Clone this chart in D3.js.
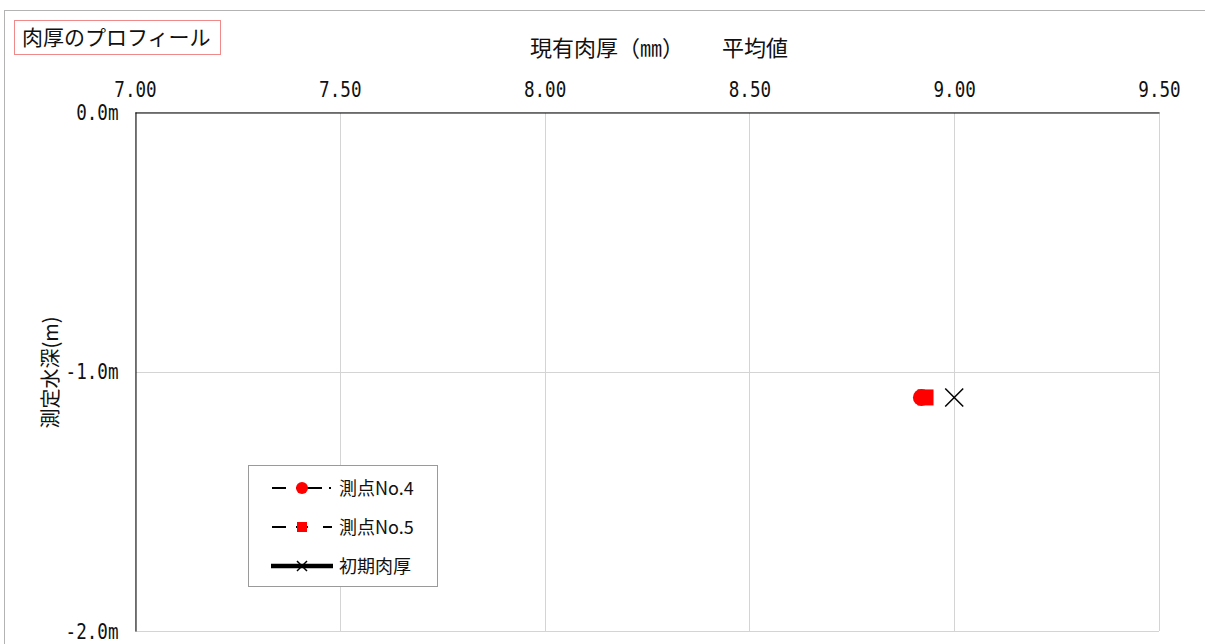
<!DOCTYPE html>
<html>
<head>
<meta charset="utf-8">
<script src="https://cdn.jsdelivr.net/npm/d3@7"></script>
<style>
  html, body { margin: 0; padding: 0; background: #fff; }
  svg { display: block; }
  .jp { font-family: "Noto Sans CJK JP", "DejaVu Sans", sans-serif; }
</style>
</head>
<body>
<svg id="chart" width="1205" height="644"></svg>
<script>
// Wall thickness profile: average measured thickness (mm) against depth (m)
const xTicks = [7.00, 7.50, 8.00, 8.50, 9.00, 9.50];
const yTicks = [0, -1, -2];

const seriesNames = ["測点No.4", "測点No.5", "初期肉厚"];
const point4 = [{ thickness: 8.92, depth: -1.1 }];
const point5 = [{ thickness: 8.93, depth: -1.1 }];
const initial = [{ thickness: 9.00, depth: -1.1 }];

const svg = d3.select("#chart");
const W = 1205, H = 644;
const plot = { left: 135, top: 112, right: 1159, bottom: 631 };
const NUM_FONT = "DejaVu Sans Mono, Liberation Mono, monospace";
const SQUEEZE = 0.8; // narrow the monospace digits

const x = d3.scaleLinear().domain([7.0, 9.5]).range([plot.left, plot.right]);
const y = d3.scaleLinear().domain([0, -2]).range([plot.top, plot.bottom]);

// outer chart frame
svg.append("rect")
  .attr("x", 4.5).attr("y", 10.5).attr("width", W + 10).attr("height", H + 10)
  .attr("fill", "#fff").attr("stroke", "#b3b3b3").attr("stroke-width", 1);

// title box
svg.append("rect")
  .attr("x", 14.5).attr("y", 20.5).attr("width", 206).attr("height", 34)
  .attr("fill", "#fff").attr("stroke", "#f08a8a").attr("stroke-width", 1);
svg.append("text").attr("class", "jp")
  .attr("x", 22).attr("y", 45)
  .attr("font-size", 21).attr("fill", "#111")
  .text("肉厚のプロフィール");

// axis title
const axTitle = svg.append("text").attr("class", "jp")
  .attr("y", 56).attr("font-size", 22).attr("fill", "#111");
axTitle.append("tspan").attr("x", 530).text("現有肉厚（㎜）");
axTitle.append("tspan").attr("x", 722).text("平均値");

// gridlines
const grid = svg.append("g").attr("stroke", "#d4d4d4").attr("stroke-width", 1);
grid.selectAll("line.vx").data(xTicks).join("line")
  .attr("x1", d => Math.round(x(d)) + 0.5).attr("x2", d => Math.round(x(d)) + 0.5)
  .attr("y1", plot.top).attr("y2", plot.bottom);
grid.selectAll("line.hy").data(yTicks).join("line")
  .attr("x1", plot.left).attr("x2", plot.right)
  .attr("y1", d => Math.round(y(d)) + 0.5).attr("y2", d => Math.round(y(d)) + 0.5);

// top x axis (black line, labels above)
const xAxis = d3.axisTop(x).tickValues(xTicks).tickSize(0).tickPadding(16)
  .tickFormat(d3.format(".2f"));
const gx = svg.append("g").attr("transform", `translate(0,${plot.top + 0.5})`).call(xAxis);
gx.select(".domain").attr("stroke", "#000");
gx.selectAll("text").attr("font-size", 22).attr("fill", "#111")
  .attr("font-family", NUM_FONT)
  .attr("transform", `scale(${SQUEEZE},1)`);

// left y axis
const yAxis = d3.axisLeft(y).tickValues(yTicks).tickSize(0)
  .tickFormat(d => d3.format(".1f")(d).replace("−", "-") + "m");
const gy = svg.append("g").attr("transform", `translate(${plot.left + 0.5},0)`).call(yAxis);
gy.select(".domain").attr("stroke", "#000");
gy.selectAll("text").attr("font-size", 22).attr("fill", "#111")
  .attr("font-family", NUM_FONT)
  .attr("x", -17 / SQUEEZE)
  .attr("transform", `scale(${SQUEEZE},1)`);

// y axis title
svg.append("text").attr("class", "jp")
  .attr("transform", `translate(58,${372.5}) rotate(-90)`)
  .attr("text-anchor", "middle")
  .attr("font-size", 20).attr("fill", "#111")
  .text("測定水深(m)");

// series markers
const marks = svg.append("g");
marks.selectAll("circle").data(point4).join("circle")
  .attr("cx", d => x(d.thickness)).attr("cy", d => y(d.depth))
  .attr("r", 8.5).attr("fill", "#ff0000");
marks.selectAll("rect").data(point5).join("rect")
  .attr("x", d => x(d.thickness) - 8).attr("y", d => y(d.depth) - 8)
  .attr("width", 16).attr("height", 16).attr("fill", "#ff0000");
const cross = marks.selectAll("g.cross").data(initial).join("g")
  .attr("transform", d => `translate(${x(d.thickness)},${y(d.depth)})`);
cross.append("line").attr("x1", -9).attr("y1", -9).attr("x2", 9).attr("y2", 9)
  .attr("stroke", "#000").attr("stroke-width", 1.5);
cross.append("line").attr("x1", -9).attr("y1", 9).attr("x2", 9).attr("y2", -9)
  .attr("stroke", "#000").attr("stroke-width", 1.5);

// legend
const lg = svg.append("g");
lg.append("rect").attr("x", 248.5).attr("y", 465.5).attr("width", 189).attr("height", 121)
  .attr("fill", "#fff").attr("stroke", "#9a9a9a");
const rowsY = [488, 527, 566];

seriesNames.forEach((name, i) => {
  const yy = rowsY[i];
  const line = lg.append("line")
    .attr("x1", 272).attr("x2", 332).attr("y1", yy).attr("y2", yy)
    .attr("stroke", "#000");
  if (i === 0) {
    line.attr("stroke-width", 2).attr("stroke-dasharray", "14,10,26,7,2,10");
    lg.append("circle").attr("cx", 302).attr("cy", yy).attr("r", 6).attr("fill", "#ff0000");
  } else if (i === 1) {
    line.attr("stroke-width", 2).attr("stroke-dasharray", "14,10,12,15,10,10");
    lg.append("rect").attr("x", 297).attr("y", yy - 5).attr("width", 10).attr("height", 10).attr("fill", "#ff0000");
  } else {
    line.attr("stroke-width", 4.5).attr("x1", 271).attr("x2", 333);
    lg.append("line").attr("x1", 297).attr("y1", yy - 5).attr("x2", 307).attr("y2", yy + 5).attr("stroke", "#000").attr("stroke-width", 1.5);
    lg.append("line").attr("x1", 297).attr("y1", yy + 5).attr("x2", 307).attr("y2", yy - 5).attr("stroke", "#000").attr("stroke-width", 1.5);
  }
  lg.append("text").attr("class", "jp")
    .attr("x", 339).attr("y", yy + 7)
    .attr("font-size", 18).attr("fill", "#111")
    .text(name);
});
</script>
</body>
</html>
